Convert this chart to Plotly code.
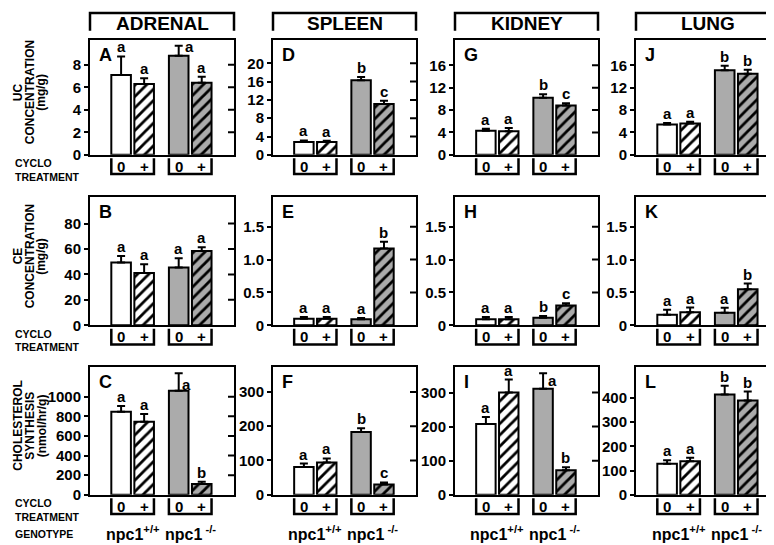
import plotly.graph_objects as go

W, H = 774, 545

# ---------------- data ----------------
organs = ["ADRENAL", "SPLEEN", "KIDNEY", "LUNG"]
row_titles = [["UC", "CONCENTRATION", "(mg/g)"],
              ["CE", "CONCENTRATION", "(mg/g)"],
              ["CHOLESTEROL", "SYNTHESIS", "(nmol/hr/g)"]]
panel_letters = [["A", "D", "G", "J"],
                 ["B", "E", "H", "K"],
                 ["C", "F", "I", "L"]]
treatments = ["0", "+", "0", "+"]
genotypes = ["npc1<sup>+/+</sup>", "npc1<sup> -/-</sup>"]

# UC concentration (mg/g): adrenal, spleen, kidney, lung
uc_values = [[7.1, 6.3, 8.8, 6.4], [2.8, 2.8, 16.3, 11.1],
             [4.3, 4.2, 10.2, 8.8], [5.4, 5.6, 15.1, 14.5]]
uc_errors = [[1.65, 0.5, 0.9, 0.55], [0.35, 0.3, 0.7, 0.7],
             [0.35, 0.6, 0.6, 0.4], [0.3, 0.3, 0.8, 0.7]]
uc_letters = [["a", "a", "a", "a"], ["a", "a", "b", "c"],
              ["a", "a", "b", "c"], ["a", "a", "b", "b"]]

# CE concentration (mg/g)
ce_values = [[49.3, 41.0, 45.4, 58.4], [0.10, 0.10, 0.09, 1.17],
             [0.09, 0.09, 0.115, 0.30], [0.16, 0.20, 0.19, 0.55]]
ce_errors = [[5.2, 7.0, 7.3, 3.0], [0.025, 0.025, 0.02, 0.1],
             [0.035, 0.035, 0.025, 0.035], [0.075, 0.07, 0.075, 0.085]]
ce_letters = [["a", "a", "a", "a"], ["a", "a", "a", "b"],
              ["a", "a", "b", "c"], ["a", "a", "a", "b"]]

# Cholesterol synthesis (nmol/hr/g)
cs_values = [[845, 745, 1060, 110], [81, 94, 183, 30],
             [208, 300, 311, 72], [128, 139, 415, 390]]
cs_errors = [[60, 78, 180, 22], [10, 12, 11, 6],
             [20, 38, 46, 9], [15, 14, 36, 37]]
cs_letters = [["a", "a", "a", "b"], ["a", "a", "b", "c"],
              ["a", "a", "a", "b"], ["a", "a", "b", "b"]]

values = [uc_values, ce_values, cs_values]
errors = [uc_errors, ce_errors, cs_errors]
letters = [uc_letters, ce_letters, cs_letters]

y_max = [[10.25, 25.2, 20.6, 20.6],
         [100.7, 1.95, 1.95, 1.95],
         [1306, 374, 376, 530]]
y_ticks = [[[0, 2, 4, 6, 8], [0, 4, 8, 12, 16, 20], [0, 4, 8, 12, 16], [0, 4, 8, 12, 16]],
           [[0, 20, 40, 60, 80], [0, 0.5, 1.0, 1.5], [0, 0.5, 1.0, 1.5], [0, 0.5, 1.0, 1.5]],
           [[0, 200, 400, 600, 800, 1000], [0, 100, 200, 300], [0, 100, 200, 300], [0, 100, 200, 300, 400]]]
y_ticktext = [[None, None, None, None],
              [None, ["0", "0.5", "1.0", "1.5"], ["0", "0.5", "1.0", "1.5"], ["0", "0.5", "1.0", "1.5"]],
              [None, None, None, None]]

# letters placed beside the error bar (row, col, bar): (xshift px, y value)
letter_beside = {(0, 0, 2): (11, 9.6), (2, 0, 2): (8, 1124), (2, 2, 2): (9, 336)}

# ---------------- styling / layout ----------------
bar_x = [1, 2, 3.5, 4.5]
bar_w = 0.85
x_range = [-0.35, 5.9]
fills = ["white", "white", "#ababab", "#ababab"]
hatched = [False, True, False, True]

rows_px = [(32, 149), (192, 322), (364, 494)]
cols_px = [(82, 226), (265, 408), (447, 590), (628, 772)]

FONT = "Liberation Sans, Arial, Helvetica, sans-serif"


def px(xp):
    return xp / W


def py(yp):
    return 1 - yp / H


def b(t):
    return f"<b>{t}</b>"


def fnt(size):
    return dict(size=size, color="black", family=FONT)


fig = go.Figure()
annotations = []
shapes = []

for r in range(3):
    top, bot = rows_px[r]
    for c in range(4):
        n = r * 4 + c + 1
        xs = "x" if n == 1 else f"x{n}"
        ys = "y" if n == 1 else f"y{n}"
        xk = "xaxis" if n == 1 else f"xaxis{n}"
        yk = "yaxis" if n == 1 else f"yaxis{n}"
        left, right = cols_px[c]
        vals = values[r][c]
        errs = errors[r][c]

        for i in range(4):
            marker = dict(color=fills[i], line=dict(color="black", width=2))
            if hatched[i]:
                marker["pattern"] = dict(shape="/", fgcolor="black", bgcolor=fills[i],
                                         fgopacity=1, size=8, solidity=0.35)
            fig.add_trace(go.Bar(
                x=[bar_x[i]], y=[vals[i]], width=bar_w, xaxis=xs, yaxis=ys,
                marker=marker,
                error_y=dict(type="data", symmetric=False, array=[errs[i]],
                             arrayminus=[0], color="black", thickness=2, width=4),
                showlegend=False, hoverinfo="skip",
            ))

        fig.layout[xk] = dict(domain=[px(left), px(right)], range=x_range,
                              showline=True, mirror=True, linecolor="black", linewidth=2,
                              showgrid=False, zeroline=False, showticklabels=False,
                              ticks="", anchor=ys, fixedrange=True)
        ttext = y_ticktext[r][c] if y_ticktext[r][c] is not None else [f"{t:g}" for t in y_ticks[r][c]]
        fig.layout[yk] = dict(domain=[py(bot), py(top)], range=[0, y_max[r][c]],
                              showline=True, mirror=True, linecolor="black", linewidth=2,
                              showgrid=False, zeroline=False, ticks="outside", ticklen=4,
                              tickwidth=2, tickcolor="black", tickvals=y_ticks[r][c],
                              ticktext=[b(t) for t in ttext],
                              tickfont=fnt(15), anchor=xs, fixedrange=True)

        # inside ticks on right side
        colw = right - left
        for t in y_ticks[r][c][1:]:
            shapes.append(dict(type="line", xref=f"{xs} domain", yref=ys,
                               x0=1, x1=1 - 6 / colw, y0=t, y1=t,
                               line=dict(color="black", width=2)))

        # panel letter
        annotations.append(dict(text=b(panel_letters[r][c]), xref=f"{xs} domain", yref=f"{ys} domain",
                                x=0, y=1, xanchor="left", yanchor="top", xshift=7, yshift=-3,
                                showarrow=False, font=fnt(18)))

        # significance letters
        for i in range(4):
            key = (r, c, i)
            if key in letter_beside:
                xsft, yv = letter_beside[key]
                annotations.append(dict(text=b(letters[r][c][i]), xref=xs, yref=ys,
                                        x=bar_x[i], y=yv, xshift=xsft, xanchor="center",
                                        yanchor="middle", showarrow=False, font=fnt(15)))
            else:
                annotations.append(dict(text=b(letters[r][c][i]), xref=xs, yref=ys,
                                        x=bar_x[i], y=vals[i] + errs[i], xanchor="center",
                                        yanchor="bottom", yshift=-1, showarrow=False,
                                        font=fnt(15)))

        # cyclo treatment brackets
        for g in range(2):
            x0 = bar_x[2 * g] - bar_w / 2
            x1 = bar_x[2 * g + 1] + bar_w / 2
            ya = py(bot + 3.5)
            yb = py(bot + 19.5)
            shapes.append(dict(type="path", xref=xs, yref="paper",
                               path=f"M {x0},{ya} L {x0},{yb} L {x1},{yb} L {x1},{ya}",
                               line=dict(color="black", width=2.5)))
        for i in range(4):
            annotations.append(dict(text=b(treatments[i]), xref=xs, yref="paper",
                                    x=bar_x[i], y=py(bot + 11.5), xanchor="center",
                                    yanchor="middle", showarrow=False, font=fnt(15)))

        # genotype labels
        if r == 2:
            for g in range(2):
                annotations.append(dict(text=b(genotypes[g]), xref=xs, yref="paper",
                                        x=(bar_x[2 * g] + bar_x[2 * g + 1]) / 2, y=py(533),
                                        xanchor="center", yanchor="middle", showarrow=False,
                                        font=fnt(16)))

    # row titles (rotated)
    cy = (top + bot) / 2 - 5
    for k, txt in enumerate(row_titles[r]):
        annotations.append(dict(text=b(txt), xref="paper", yref="paper",
                                x=px([10, 22, 33.5][k]), y=py(cy), textangle=-90,
                                xanchor="center", yanchor="middle", showarrow=False,
                                font=fnt(12)))
    # left labels
    annotations.append(dict(text=b("CYCLO"), xref="paper", yref="paper", x=px(5), y=py(bot + 8.5),
                            xanchor="left", yanchor="middle", showarrow=False, font=fnt(10.5)))
    annotations.append(dict(text=b("TREATMENT"), xref="paper", yref="paper", x=px(5), y=py(bot + 22.5),
                            xanchor="left", yanchor="middle", showarrow=False, font=fnt(10.5)))

annotations.append(dict(text=b("GENOTYPE"), xref="paper", yref="paper", x=px(5), y=py(534),
                        xanchor="left", yanchor="middle", showarrow=False, font=fnt(10.5)))

# organ headers
for c, organ in enumerate(organs):
    left, right = cols_px[c]
    shapes.append(dict(type="path", xref="paper", yref="paper",
                       path=f"M {px(left)},{py(23)} L {px(left)},{py(5)} L {px(right)},{py(5)} L {px(right)},{py(23)}",
                       line=dict(color="black", width=2.5)))
    annotations.append(dict(text=b(organ), xref="paper", yref="paper",
                            x=px((left + right) / 2), y=py(16), xanchor="center", yanchor="middle",
                            showarrow=False, font=fnt(19)))

fig.update_layout(width=W, height=H, margin=dict(l=0, r=0, t=0, b=0),
                  paper_bgcolor="white", plot_bgcolor="white",
                  font=dict(family=FONT, color="black"),
                  annotations=annotations, shapes=shapes, showlegend=False,
                  barmode="overlay")

fig.write_html("out.html")
